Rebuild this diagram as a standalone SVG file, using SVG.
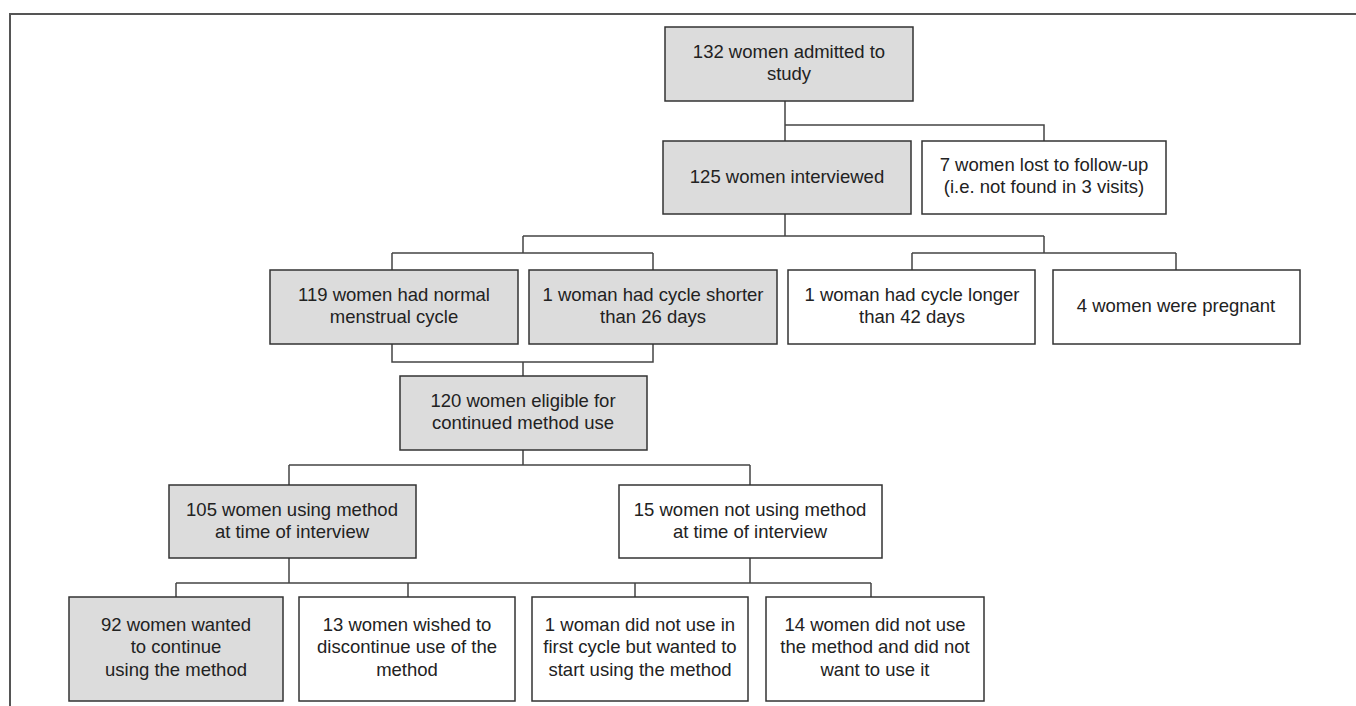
<svg xmlns="http://www.w3.org/2000/svg" width="1356" height="706" viewBox="0 0 1356 706">
<style>
.box{stroke:#333;stroke-width:1.5}
.g{fill:#dcdcdc}
.w{fill:#ffffff}
.t{font-family:"Liberation Sans",Arial,sans-serif;font-size:18.5px;fill:#222;text-anchor:middle}
.c{fill:none;stroke:#444;stroke-width:1.5}
</style>
<rect width="1356" height="706" fill="#ffffff"/>
<path d="M10,706 V14 H1356" fill="none" stroke="#555" stroke-width="2"/>
<g id="connectors" class="c">
<path d="M785,101 V141 M785,125 H1044 V141"/>
<path d="M785,214 V236 M523,236 H1044 M523,236 V253 M392,253 H653 M392,253 V270 M653,253 V270 M1044,236 V253 M912,253 H1176 M912,253 V270 M1176,253 V270"/>
<path d="M392,344 V362 H653 V344 M523,362 V376"/>
<path d="M523,450 V465 M289,465 H750 M289,465 V485 M750,465 V485"/>
<path d="M289,558 V583 M750,558 V583 M176,583 H871 M176,583 V597 M408,583 V597 M635,583 V597 M871,583 V597"/>
</g>
<g id="n132"><rect class="box g" x="665" y="27" width="248" height="74"/><text class="t" x="789" y="58">132 women admitted to</text><text class="t" x="789" y="80">study</text></g>
<g id="n125"><rect class="box g" x="663" y="141" width="248" height="73"/><text class="t" x="787" y="183">125 women interviewed</text></g>
<g id="n7"><rect class="box w" x="922" y="141" width="244" height="73"/><text class="t" x="1044" y="171">7 women lost to follow-up</text><text class="t" x="1044" y="193">(i.e. not found in 3 visits)</text></g>
<g id="n119"><rect class="box g" x="270" y="270" width="248" height="74"/><text class="t" x="394" y="301">119 women had normal</text><text class="t" x="394" y="323">menstrual cycle</text></g>
<g id="n1short"><rect class="box g" x="529" y="270" width="248" height="74"/><text class="t" x="653" y="301">1 woman had cycle shorter</text><text class="t" x="653" y="323">than 26 days</text></g>
<g id="n1long"><rect class="box w" x="788" y="270" width="247" height="74"/><text class="t" x="912" y="301">1 woman had cycle longer</text><text class="t" x="912" y="323">than 42 days</text></g>
<g id="n4"><rect class="box w" x="1053" y="270" width="247" height="74"/><text class="t" x="1176" y="312">4 women were pregnant</text></g>
<g id="n120"><rect class="box g" x="400" y="376" width="247" height="74"/><text class="t" x="523" y="407">120 women eligible for</text><text class="t" x="523" y="429">continued method use</text></g>
<g id="n105"><rect class="box g" x="169" y="485" width="247" height="73"/><text class="t" x="292" y="516">105 women using method</text><text class="t" x="292" y="538">at time of interview</text></g>
<g id="n15"><rect class="box w" x="619" y="485" width="263" height="73"/><text class="t" x="750" y="516">15 women not using method</text><text class="t" x="750" y="538">at time of interview</text></g>
<g id="n92"><rect class="box g" x="69" y="597" width="214" height="104"/><text class="t" x="176" y="631">92 women wanted</text><text class="t" x="176" y="653">to continue</text><text class="t" x="176" y="676">using the method</text></g>
<g id="n13"><rect class="box w" x="299" y="597" width="216" height="104"/><text class="t" x="407" y="631">13 women wished to</text><text class="t" x="407" y="653">discontinue use of the</text><text class="t" x="407" y="676">method</text></g>
<g id="n1did"><rect class="box w" x="532" y="597" width="216" height="104"/><text class="t" x="640" y="631">1 woman did not use in</text><text class="t" x="640" y="653">first cycle but wanted to</text><text class="t" x="640" y="676">start using the method</text></g>
<g id="n14"><rect class="box w" x="766" y="597" width="218" height="104"/><text class="t" x="875" y="631">14 women did not use</text><text class="t" x="875" y="653">the method and did not</text><text class="t" x="875" y="676">want to use it</text></g>
</svg>
